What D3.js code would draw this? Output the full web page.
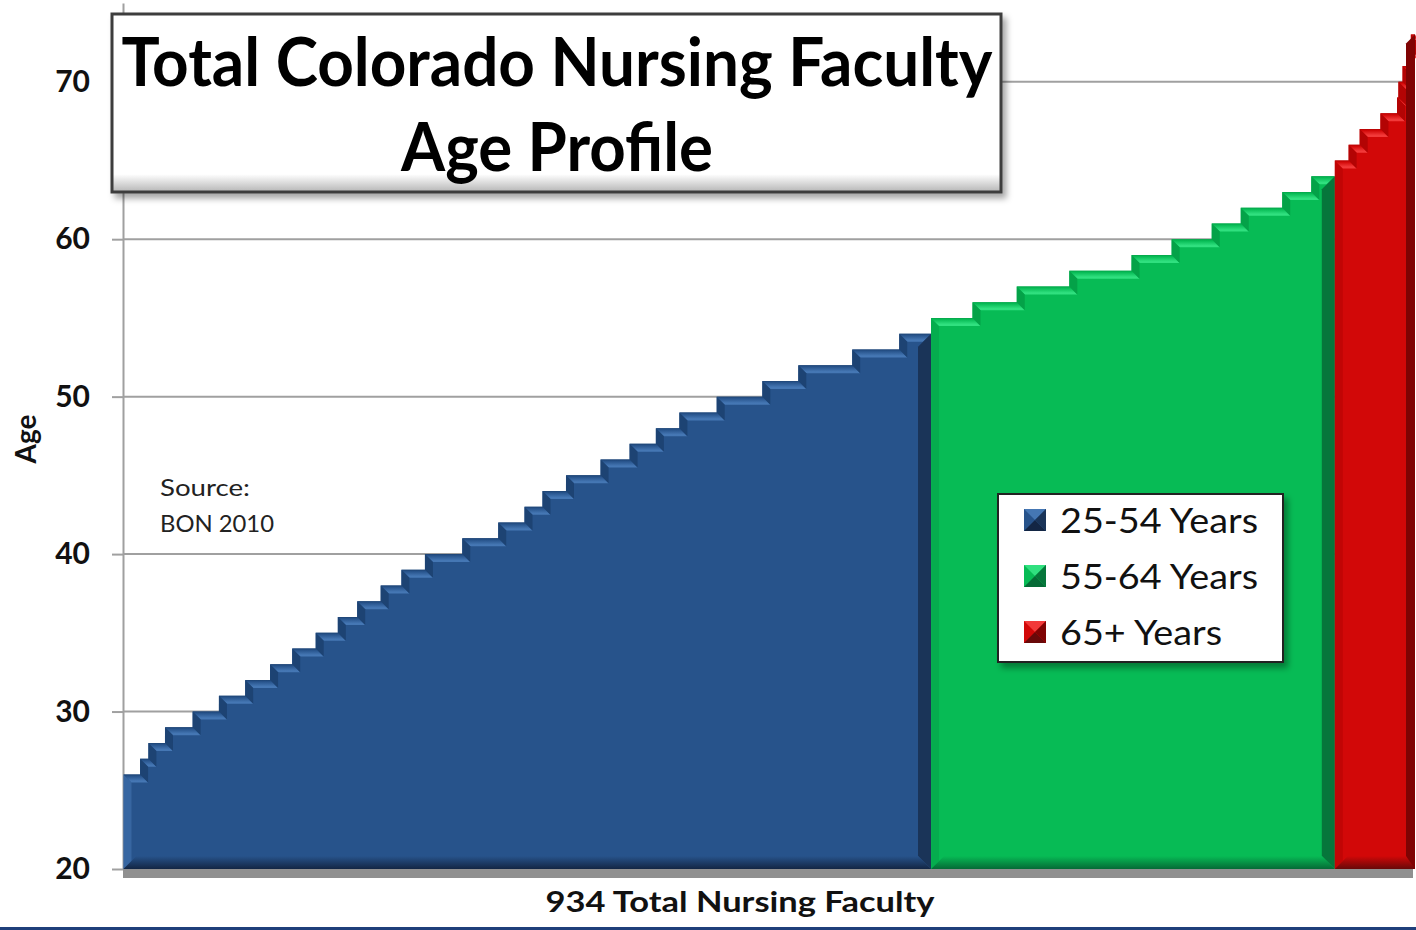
<!DOCTYPE html>
<html>
<head>
<meta charset="utf-8">
<script src="https://cdn.jsdelivr.net/npm/d3@7"></script>
<style>
  body { margin: 0; background: #fff; }
  svg { display: block; font-family: Lato, "Open Sans", sans-serif; }
</style>
</head>
<body>
<script>
// faculty count at each age
const ages   = [26,27,28,29,30,31,32,33,34,35,36,37,38,39,40,41,42,43,44,45,46,47,48,49,50,51,52,53,54,
                55,56,57,58,59,60,61,62,63,64,
                65,66,67,68,69,70,71,72,73];
const counts = [12, 6,12,20,19,19,18,16,17,16,14,17,15,17,27,26,19,13,17,25,21,19,17,27,33,26,39,34,23,
                30,32,38,45,29,29,21,30,21,17,
                10, 8,15,12, 1, 3, 3, 3, 3];
const groupNames = ["25-54 Years", "55-64 Years", "65+ Years"];
const groupMin = [25, 55, 65];
const yTicks = [20, 30, 40, 50, 60, 70];
const titleLines = ["Total Colorado Nursing Faculty", "Age Profile"];
const sourceLines = ["Source:", "BON 2010"];
const xLabel = "934 Total Nursing Faculty";
const yLabel = "Age";

const palette = [
  {base: "#27538b", light: "#4577b4", riser: "#1d4373", bottom: "#132644", side: "#1a3458"},
  {base: "#07bb55", light: "#30e07f", riser: "#04a248", bottom: "#056a36", side: "#06763b"},
  {base: "#d20808", light: "#f23a3a", riser: "#b30404", bottom: "#680909", side: "#7f0303"}
];

const width = 1416, height = 930;
const total = d3.sum(counts);
const bev = 8;

const svg = d3.select("body").append("svg")
  .attr("width", width).attr("height", height);

const defs = svg.append("defs");
const shadow = defs.append("filter").attr("id", "shadow")
  .attr("x", "-5%").attr("y", "-5%").attr("width", "115%").attr("height", "120%");
shadow.append("feDropShadow").attr("dx", 4).attr("dy", 5).attr("stdDeviation", 3)
  .attr("flood-color", "#000").attr("flood-opacity", 0.35);

palette.forEach((p, i) => {
  const g = defs.append("linearGradient").attr("id", "top" + i)
    .attr("x1", 0).attr("y1", 0).attr("x2", 0).attr("y2", 1);
  g.append("stop").attr("offset", 0).attr("stop-color", p.riser);
  g.append("stop").attr("offset", 0.2).attr("stop-color", p.base);
  g.append("stop").attr("offset", 0.8).attr("stop-color", p.light);
  g.append("stop").attr("offset", 1).attr("stop-color", p.light);
  const b = defs.append("linearGradient").attr("id", "bot" + i)
    .attr("x1", 0).attr("y1", 0).attr("x2", 0).attr("y2", 1);
  b.append("stop").attr("offset", 0).attr("stop-color", p.base);
  b.append("stop").attr("offset", 1).attr("stop-color", p.bottom);
});
const tg = defs.append("linearGradient").attr("id", "titleFill")
  .attr("x1", 0).attr("y1", 0).attr("x2", 0).attr("y2", 1);
tg.append("stop").attr("offset", 0.9).attr("stop-color", "#ffffff");
tg.append("stop").attr("offset", 1).attr("stop-color", "#b5b5b5");

const x = d3.scaleLinear().domain([0, total]).range([123.5, 1415]);
const y = d3.scaleLinear().domain([20, 75]).range([869, 3]);

// rows with cumulative start
let acc = 0;
const rows = ages.map((a, i) => {
  const r = {age: a, n: counts[i], start: acc, end: acc + counts[i],
             group: d3.bisectRight(groupMin, a) - 1};
  acc += counts[i];
  return r;
});

// gridlines + axis
svg.append("g").selectAll("line").data(yTicks.slice(1)).join("line")
  .attr("x1", 123).attr("x2", 1413)
  .attr("y1", d => y(d)).attr("y2", d => y(d))
  .attr("stroke", "#a0a0a0").attr("stroke-width", 2);

const yAxis = svg.append("g").attr("transform", "translate(123,0)")
  .call(d3.axisLeft(y).tickValues(yTicks).tickSize(11).tickSizeOuter(0).tickPadding(22));
yAxis.select(".domain").attr("stroke", "#a0a0a0").attr("stroke-width", 2);
yAxis.selectAll(".tick line").attr("stroke", "#a0a0a0").attr("stroke-width", 2);
yAxis.selectAll(".tick text").attr("font-size", 30).attr("font-weight", 700)
  .attr("fill", "#111").attr("font-family", "Lato, sans-serif");

// floor under the bars
svg.append("rect").attr("x", 123).attr("y", 869).attr("width", x(total) - 123 - 2).attr("height", 9)
  .attr("fill", "#909090");

// stepped bars, one group per colour
const y0 = y(20);
d3.range(groupNames.length).forEach(gi => {
  const rs = rows.filter(r => r.group === gi);
  const p = palette[gi];
  const g = svg.append("g");
  const gx0 = x(rs[0].start), gx1 = x(rs[rs.length - 1].end);

  let pts = [[gx0, y0]];
  rs.forEach(r => { pts.push([x(r.start), y(r.age)], [x(r.end), y(r.age)]); });
  pts.push([gx1, y0]);
  g.append("path").attr("d", "M" + pts.join("L") + "Z").attr("fill", p.base);

  // left bevel of the group
  const yFirst = y(rs[0].age);
  g.append("path")
    .attr("d", `M${gx0},${y0}L${gx0},${yFirst}L${gx0 + bev},${yFirst + bev}L${gx0 + bev},${y0 - bev}Z`)
    .attr("fill", gi === 0 ? p.light : p.riser).attr("opacity", 0.55);

  // step tops and risers
  rs.forEach((r, i) => {
    const xs = x(r.start), xe = x(r.end), yt = y(r.age);
    const last = i === rs.length - 1;
    const top = last
      ? `M${xs},${yt}L${xe},${yt}L${Math.max(xs + bev, xe - bev)},${yt + bev}L${xs + bev},${yt + bev}Z`
      : `M${xs},${yt}L${xe},${yt}L${xe + bev},${yt + bev}L${xs + bev},${yt + bev}Z`;
    g.append("path").attr("d", top).attr("fill", `url(#top${gi})`);
    if (i > 0) {
      const yp = y(rs[i - 1].age);
      g.append("path")
        .attr("d", `M${xs},${yt}L${xs + bev},${yt + bev}L${xs + bev},${yp + bev}L${xs},${yp}Z`)
        .attr("fill", p.riser);
    }
  });

  // right side and bottom bevels
  const yLast = y(rs[rs.length - 1].age);
  const sw = gi === 2 ? 9 : 13;
  g.append("path")
    .attr("d", `M${gx1},${yLast}L${gx1},${y0}L${gx1 - sw},${y0 - sw}L${gx1 - sw},${yLast + sw}Z`)
    .attr("fill", p.side);
  g.append("path")
    .attr("d", `M${gx0},${y0}L${gx1},${y0}L${gx1 - sw},${y0 - 13}L${gx0 + 13},${y0 - 13}Z`)
    .attr("fill", `url(#bot${gi})`);
});

// axis titles
svg.append("text").attr("x", 740).attr("y", 912).attr("text-anchor", "middle")
  .attr("font-size", 28).attr("font-weight", 700).attr("fill", "#111")
  .attr("textLength", 389).attr("lengthAdjust", "spacingAndGlyphs")
  .text(xLabel);
svg.append("text").attr("transform", "translate(36,439) rotate(-90)").attr("text-anchor", "middle")
  .attr("font-size", 28).attr("font-weight", 700).attr("fill", "#111")
  .text(yLabel);

// source note
svg.append("g").selectAll("text").data(sourceLines).join("text")
  .attr("x", 160).attr("y", (d, i) => 496 + i * 36)
  .attr("font-size", 24).attr("fill", "#222")
  .attr("textLength", (d, i) => i === 0 ? 90 : 114).attr("lengthAdjust", "spacingAndGlyphs")
  .text(d => d);

// title box
svg.append("rect").attr("x", 112).attr("y", 14).attr("width", 889).attr("height", 178)
  .attr("fill", "url(#titleFill)").attr("stroke", "#3c3c3c").attr("stroke-width", 3)
  .attr("filter", "url(#shadow)");
svg.append("g").selectAll("text").data(titleLines).join("text")
  .attr("x", 557).attr("y", (d, i) => 86 + i * 85).attr("text-anchor", "middle")
  .attr("font-size", 66).attr("font-weight", 700).attr("fill", "#000")
  .attr("textLength", (d, i) => i === 0 ? 871 : 312).attr("lengthAdjust", "spacingAndGlyphs")
  .text(d => d);

// legend
const lg = svg.append("g").attr("transform", "translate(998,494)");
lg.append("rect").attr("width", 285).attr("height", 168)
  .attr("fill", "#fff").attr("stroke", "#222").attr("stroke-width", 2)
  .attr("filter", "url(#shadow)");
const items = lg.selectAll("g.item").data(groupNames).join("g").attr("class", "item")
  .attr("transform", (d, i) => `translate(26,${15 + i * 56})`);
items.append("rect").attr("width", 22).attr("height", 22).attr("fill", (d, i) => palette[i].base);
items.append("path").attr("d", "M0,0L22,0L11,11Z").attr("fill", (d, i) => palette[i].light);
items.append("path").attr("d", "M0,22L22,22L11,11Z").attr("fill", (d, i) => palette[i].bottom);
items.append("path").attr("d", "M22,0L22,22L11,11Z").attr("fill", (d, i) => palette[i].side);
items.append("text").attr("x", 36).attr("y", 24)
  .attr("font-size", 35).attr("fill", "#111")
  .attr("textLength", (d, i) => i === 2 ? 162 : 198).attr("lengthAdjust", "spacingAndGlyphs")
  .text(d => d);

// bottom frame line
svg.append("rect").attr("x", 0).attr("y", 927).attr("width", width).attr("height", 3).attr("fill", "#1f3f7a");
</script>
</body>
</html>
